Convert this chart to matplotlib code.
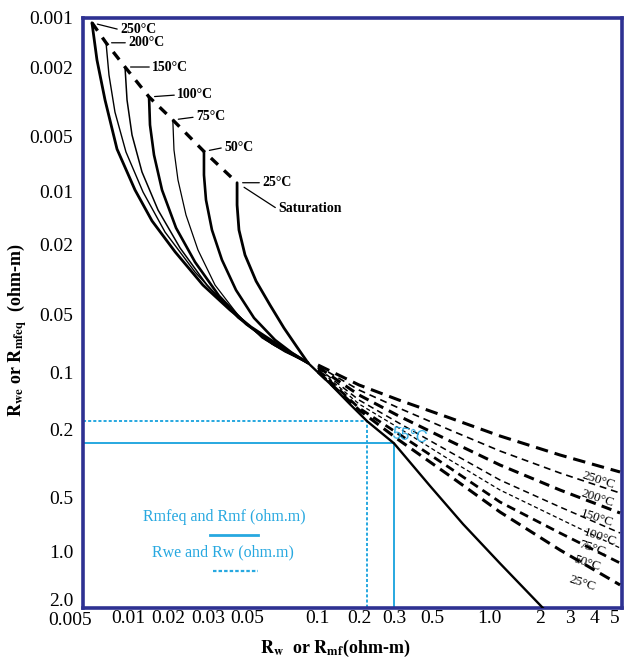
import numpy as np
import matplotlib
matplotlib.use("Agg")
import matplotlib.pyplot as plt
from matplotlib.transforms import ScaledTranslation

plt.rcParams['font.family'] = ['Liberation Serif', 'DejaVu Serif']
plt.rcParams['mathtext.fontset'] = 'stix'
plt.rcParams['lines.scale_dashes'] = False

# ---------------- data ----------------
TEMPS = ['250°C', '200°C', '150°C', '100°C', '75°C', '50°C', '25°C']

# saturation line (upper end of each temperature curve)
SAT_RW = [0.00574, 0.00713, 0.00955, 0.0144, 0.0210, 0.0288, 0.0439]
SAT_RWE = [0.00107, 0.00142, 0.0020, 0.00296, 0.0040, 0.0060, 0.0089]

# solid Rwe curves (low-resistivity branch)
RW_250 = [0.00574, 0.0062, 0.00702, 0.00844, 0.01129, 0.01516, 0.0215, 0.0285, 0.040, 0.052, 0.0693, 0.0915]
RWE_250 = [0.00107, 0.00181, 0.00308, 0.00582, 0.00975, 0.0146, 0.0219, 0.0338, 0.0468, 0.0577, 0.0724, 0.0887]
RW_200 = [0.00713, 0.00746, 0.00818, 0.00969, 0.01297, 0.0190, 0.0263, 0.0390, 0.0603, 0.0915]
RWE_200 = [0.00142, 0.00222, 0.00361, 0.00604, 0.0100, 0.0169, 0.0285, 0.0456, 0.0674, 0.0887]
RW_150 = [0.00955, 0.00985, 0.01072, 0.01274, 0.01682, 0.0226, 0.0297, 0.0444, 0.0640, 0.0915]
RWE_150 = [0.0020, 0.00308, 0.00487, 0.00777, 0.01265, 0.0208, 0.0338, 0.0518, 0.0707, 0.0887]
RW_100 = [0.0144, 0.01464, 0.01569, 0.01803, 0.0217, 0.0263, 0.0347, 0.0494, 0.0660, 0.0915]
RWE_100 = [0.00296, 0.00427, 0.00627, 0.00975, 0.0160, 0.0250, 0.0390, 0.0557, 0.0716, 0.0887]
RW_75 = [0.0210, 0.02125, 0.02213, 0.0240, 0.0271, 0.0329, 0.0444, 0.0580, 0.0728, 0.0915]
RWE_75 = [0.0040, 0.00589, 0.0086, 0.01351, 0.02135, 0.0338, 0.0500, 0.0658, 0.0778, 0.0887]
RW_50 = [0.0288, 0.0288, 0.0294, 0.0316, 0.0360, 0.0433, 0.0536, 0.0660, 0.0781, 0.0915]
RWE_50 = [0.0060, 0.00807, 0.0111, 0.01644, 0.0243, 0.0361, 0.0518, 0.0674, 0.0787, 0.0887]
RW_25 = [0.0439, 0.0439, 0.0450, 0.0487, 0.0547, 0.0628, 0.0721, 0.0820, 0.0915]
RWE_25 = [0.0089, 0.01185, 0.01644, 0.0228, 0.0321, 0.0439, 0.0584, 0.0733, 0.0887]

# common solid line below the convergence point
RW_MAIN = [0.0915, 0.124, 0.172, 0.22, 0.30, 0.487, 0.729, 1.16, 2.08]
RWE_MAIN = [0.0887, 0.114, 0.146, 0.18, 0.24, 0.43, 0.703, 1.15, 2.0]

# dashed Rwe curves (high-resistivity branch)
RW_HIGH = [0.1017, 0.20, 0.32, 0.622, 1.161, 2.62, 4.92]
RWE_HIGH_250 = [0.0909, 0.1157, 0.1389, 0.1728, 0.2171, 0.2815, 0.3552]
RWE_HIGH_200 = [0.0920, 0.1230, 0.1531, 0.2000, 0.2665, 0.3601, 0.4734]
RWE_HIGH_150 = [0.0931, 0.1307, 0.1687, 0.2325, 0.3228, 0.4543, 0.6116]
RWE_HIGH_100 = [0.0942, 0.1389, 0.1837, 0.2702, 0.3963, 0.5671, 0.7870]
RWE_HIGH_75 = [0.0953, 0.1458, 0.1952, 0.3014, 0.4543, 0.6597, 0.9508]
RWE_HIGH_50 = [0.0965, 0.1531, 0.2113, 0.3363, 0.5325, 0.7870, 1.146]
RWE_HIGH_25 = [0.0988, 0.1568, 0.2293, 0.3752, 0.6040, 0.9750, 1.504]

# right-hand temperature labels (data position)
RLAB_X = [4.10, 4.07, 4.07, 4.17, 3.86, 3.65, 3.44]
RLAB_Y = [0.396, 0.506, 0.651, 0.828, 0.951, 1.146, 1.468]

# worked example at 55 °C
EX_RMF, EX_RMFEQ = 0.30, 0.24
EX_RW, EX_RWE = 0.22, 0.18
EX_LABEL_X, EX_LABEL_Y = 0.372, 0.217

XTICKS = [0.005, 0.01, 0.02, 0.03, 0.05, 0.1, 0.2, 0.3, 0.5, 1.0, 2, 3, 4, 5]
XTICKLABELS = ['0.005', '0.01', '0.02', '0.03', '0.05', '0.1', '0.2', '0.3',
               '0.5', '1.0', '2', '3', '4', '5']
YTICKS = [0.001, 0.002, 0.005, 0.01, 0.02, 0.05, 0.1, 0.2, 0.5, 1.0, 2.0]
YTICKLABELS = ['0.001', '0.002', '0.005', '0.01', '0.02', '0.05', '0.1',
               '0.2', '0.5', '1.0', '2.0']

# axis layout of the original (tick places along each axis, 0..1)
X_FRAC = [0, 0.0835, 0.1577, 0.2319, 0.3043, 0.4341, 0.5121, 0.5770,
          0.6475, 0.7532, 0.8479, 0.9035, 0.9499, 1.0]
Y_FRAC = [0, 0.0831, 0.2017, 0.2949, 0.3847, 0.5034, 0.6017, 0.6983,
          0.8119, 0.9051, 1.0]


def chart_scale(ticks, fracs):
    lt = np.log10(np.asarray(ticks, float))
    fr = np.asarray(fracs, float)
    s0 = (fr[1] - fr[0]) / (lt[1] - lt[0])
    s1 = (fr[-1] - fr[-2]) / (lt[-1] - lt[-2])
    lt_e = np.r_[lt[0] - 20, lt, lt[-1] + 20]
    fr_e = np.r_[fr[0] - 20 * s0, fr, fr[-1] + 20 * s1]

    def fwd(v):
        v = np.asarray(v, float)
        lv = np.log10(np.where(v > 0, v, 1e-300))
        return np.interp(lv, lt_e, fr_e)

    def inv(f):
        return 10 ** np.interp(np.asarray(f, float), fr_e, lt_e)
    return fwd, inv


BLUE = '#27A8E0'
NAVY = '#2E3192'

fig = plt.figure(figsize=(6.25, 6.61), dpi=100)
ax = fig.add_axes([0.1328, 0.0802, 0.8624, 0.8926])
ax.set_xscale('function', functions=chart_scale(XTICKS, X_FRAC))
ax.set_yscale('function', functions=chart_scale(YTICKS, Y_FRAC))
ax.set_xlim(0.005, 5)
ax.set_ylim(2.0, 0.001)

# solid low-resistivity curves
solid = [(RW_250, RWE_250, 2.0), (RW_200, RWE_200, 1.0), (RW_150, RWE_150, 1.1),
         (RW_100, RWE_100, 1.9), (RW_75, RWE_75, 0.9), (RW_50, RWE_50, 1.9),
         (RW_25, RWE_25, 2.0)]
for xs, ys, lw in solid:
    ax.plot(xs, ys, color='black', lw=lw, solid_capstyle='round',
            solid_joinstyle='round', zorder=3)
ax.plot(RW_MAIN, RWE_MAIN, color='black', lw=1.7, solid_joinstyle='round',
        zorder=3)

# saturation line
ax.plot(SAT_RW, SAT_RWE, color='black', lw=2.4, dashes=(7, 6), zorder=3)

# dashed high-resistivity curves
high = [(RWE_HIGH_250, 2.2, (9, 5)), (RWE_HIGH_200, 1.2, (5, 3.5)),
        (RWE_HIGH_150, 2.2, (7.5, 4.5)), (RWE_HIGH_100, 1.1, (4.5, 3)),
        (RWE_HIGH_75, 0.9, (3, 2)), (RWE_HIGH_50, 2.0, (6.5, 4)),
        (RWE_HIGH_25, 2.2, (8, 4.5))]
for ys, lw, ds in high:
    ax.plot(RW_HIGH, ys, color='black', lw=lw, dashes=ds, zorder=3)

# top temperature labels with leader lines
top_offsets = [(28, -7), (22, 0), (27, 0), (28, 2), (23, 3), (20, 4), (25, 0)]
for x, y, lab, off in zip(SAT_RW, SAT_RWE, TEMPS, top_offsets):
    ax.annotate(lab, xy=(x, y), xytext=off, textcoords='offset pixels',
                ha='left', va='center', fontsize=10, fontweight='bold',
                arrowprops=dict(arrowstyle='-', lw=0.9, color='black',
                                shrinkA=0, shrinkB=4, relpos=(0, 0.5)))
ax.annotate('Saturation', xy=(SAT_RW[-1], SAT_RWE[-1]), xytext=(41, -26),
            textcoords='offset pixels', ha='left', va='center', fontsize=10,
            fontweight='bold',
            arrowprops=dict(arrowstyle='-', lw=0.9, color='black',
                            shrinkA=0, shrinkB=6, relpos=(0, 0.45)))

# right temperature labels
for x, y, lab in zip(RLAB_X, RLAB_Y, TEMPS):
    ax.text(x, y, lab, rotation=-18, ha='center', va='center', fontsize=9.5,
            rotation_mode='anchor', zorder=4)

# 55 °C worked example
ax.plot([0.005, EX_RMF, EX_RMF], [EX_RMFEQ, EX_RMFEQ, 2.0], color=BLUE,
        lw=1.4, zorder=2)
ax.plot([0.005, EX_RW, EX_RW], [EX_RWE, EX_RWE, 2.0], color=BLUE, lw=1.4,
        dashes=(2.2, 1.5), zorder=2)
ax.text(EX_LABEL_X, EX_LABEL_Y, '55°C', color=BLUE, fontsize=11.5,
        family=['Liberation Sans', 'DejaVu Sans'], rotation=-8,
        ha='center', va='center', zorder=4)

# key for the blue lines
ax.text(0.263, 0.154, 'Rmfeq and Rmf (ohm.m)', transform=ax.transAxes,
        ha='center', va='center', color=BLUE, fontsize=11.5)
ax.plot([0.236, 0.325], [0.124, 0.124], transform=ax.transAxes, color=BLUE,
        lw=2.0)
ax.text(0.260, 0.095, 'Rwe and Rw (ohm.m)', transform=ax.transAxes,
        ha='center', va='center', color=BLUE, fontsize=11.5)
ax.plot([0.241, 0.325], [0.063, 0.063], transform=ax.transAxes, color=BLUE,
        lw=1.6, dashes=(2.5, 1.5))

# axes styling
ax.set_xticks(XTICKS, XTICKLABELS)
ax.set_yticks(YTICKS, YTICKLABELS)
ax.minorticks_off()
ax.tick_params(axis='both', length=0, labelsize=14, colors='black')
ax.tick_params(axis='x', pad=1.5)
ax.tick_params(axis='y', pad=7)
for sp in ax.spines.values():
    sp.set_color(NAVY)
    sp.set_linewidth(2.6)


def nudge(label, dx_px, dy_px):
    label.set_transform(label.get_transform() +
                        ScaledTranslation(dx_px / 100, dy_px / 100,
                                          fig.dpi_scale_trans))


xt = ax.xaxis.get_major_ticks()
yt = ax.yaxis.get_major_ticks()
nudge(xt[0].label1, -13, -2)     # 0.005 sits left of the frame corner
nudge(xt[-1].label1, -7, 0)      # 5 sits inside the right frame
nudge(yt[-1].label1, 0, 8)       # 2.0 sits just above the corner

fig.text(0.536, 0.0197,
         r'$\mathbf{R}_{\mathbf{w}}$  or $\mathbf{R}_{\mathbf{mf}}$(ohm-m)',
         ha='center', va='center', fontsize=13, fontweight='bold')
fig.text(0.027, 0.50,
         r'$\mathbf{R}_{\mathbf{we}}$ or $\mathbf{R}_{\mathbf{mfeq}}$  (ohm-m)',
         ha='center', va='center', rotation=90, fontsize=13, fontweight='bold')

fig.savefig('out.png', dpi=100)
